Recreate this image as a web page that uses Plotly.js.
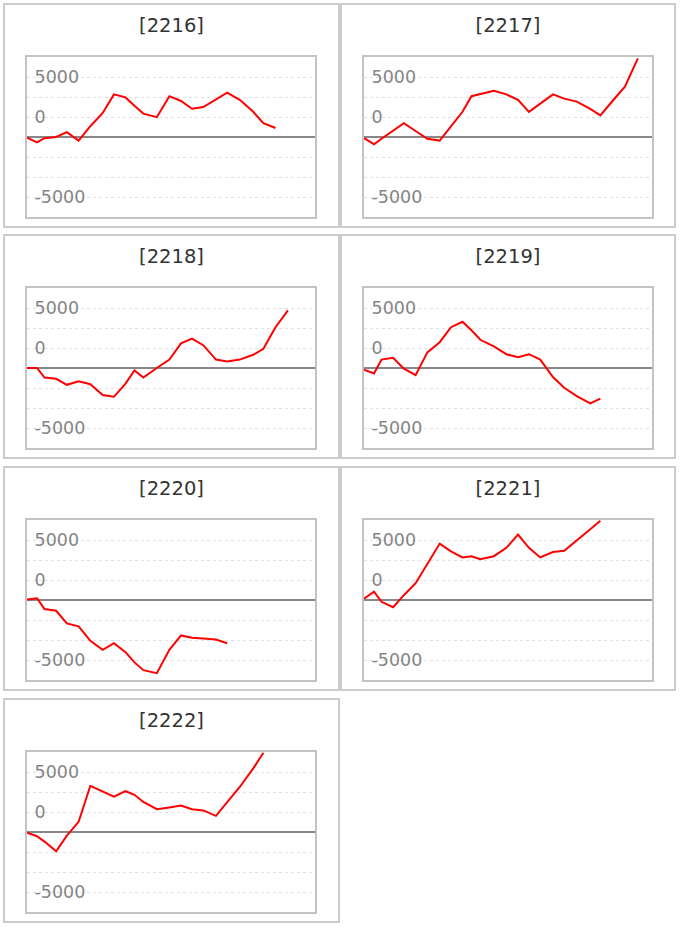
<!DOCTYPE html>
<html>
<head>
<meta charset="utf-8">
<script src="https://cdn.plot.ly/plotly-3.0.1.min.js"></script>
<style>
  body { margin: 0; background: #fff; }
  .box { position: absolute; height: 225px; box-sizing: border-box; border: 2px solid #ccc; background: #fff; }
  .chart { width: 100%; height: 221px; }
</style>
</head>
<body>
<script>
// shared day positions (x) for all series
var days = [0, 0.87, 1.52, 2.53, 3.46, 4.48, 5.5, 6.57, 7.55, 8.55, 9.33, 10.1, 11.27,
	12.36, 13.37, 14.32, 15.3, 16.4, 17.38, 18.47, 19.64, 20.52, 21.57, 22.65, 23.77];

var codes = ["2216", "2217", "2218", "2219", "2220", "2221", "2222"];

var pl2216 = [-50, -450, -100, 0, 400, -300, 900, 2000, 3550, 3300, 2600, 1950, 1650, 3400, 3000, 2350, 2500, 3100, 3700, 3100, 2100, 1150, 750];
var pl2217 = [-100, -600, -150, 550, 1150, 500, -150, -300, 850, 2100, 3400, 3600, 3850, 3550, 3100, 2100, 2800, 3550, 3200, 2950, 2350, 1800, 3000, 4200, 6550];
var pl2218 = [0, 0, -800, -900, -1400, -1100, -1350, -2250, -2400, -1300, -200, -800, 0, 700, 2050, 2450, 1900, 700, 550, 700, 1100, 1600, 3400, 4800];
var pl2219 = [-150, -450, 700, 850, -50, -600, 1300, 2150, 3400, 3850, 3150, 2350, 1800, 1150, 900, 1150, 700, -750, -1650, -2350, -2950, -2550];
var pl2220 = [50, 150, -750, -900, -1950, -2200, -3400, -4150, -3600, -4350, -5200, -5850, -6100, -4150, -2950, -3150, -3200, -3300, -3600];
var pl2221 = [100, 700, -150, -600, 400, 1400, 3000, 4700, 4050, 3550, 3650, 3400, 3650, 4350, 5450, 4350, 3550, 4000, 4100, 5000, 5900, 6600];
var pl2222 = [-50, -350, -800, -1600, -300, 850, 3850, 3400, 2950, 3400, 3100, 2500, 1900, 2050, 2200, 1900, 1800, 1350, 2500, 3750, 5300, 6600];

var series = [pl2216, pl2217, pl2218, pl2219, pl2220, pl2221, pl2222];

// dotted grid every 5000/3, labels as printed on the original
var yTickVals = [-5000, -10000 / 3, -5000 / 3, 0, 5000 / 3, 10000 / 3, 5000];
var yTickText = ["-5000", "", "", "", "0", "", "5000"];

var colLeft = [3, 340];
var colWidth = [337, 336];
var rowTop = [3, 234, 466, 698];

for (let i = 0; i < codes.length; i++) {
	var box = document.createElement("div");
	box.className = "box";
	box.style.left = colLeft[i % 2] + "px";
	box.style.top = rowTop[Math.floor(i / 2)] + "px";
	box.style.width = colWidth[i % 2] + "px";
	var div = document.createElement("div");
	div.className = "chart";
	div.id = "chart" + codes[i];
	box.appendChild(div);
	document.body.appendChild(box);

	var ys = series[i];
	var trace = {
		x: days.slice(0, ys.length),
		y: ys,
		type: "scatter",
		mode: "lines",
		line: {color: "#ff0000", width: 2},
		hoverinfo: "none"
	};
	var w = colWidth[i % 2] - 4;
	var layout = {
		width: w,
		height: 221,
		margin: {l: 22, r: w - 22 - 288, t: 52, b: 9, pad: 0},
		paper_bgcolor: "#fff",
		plot_bgcolor: "#fff",
		showlegend: false,
		title: {
			text: "[" + codes[i] + "]",
			font: {family: "DejaVu Sans", size: 19.5, color: "#333"},
			x: 0.5, xref: "container", xanchor: "center",
			y: 1 - 20.5 / 221, yref: "container", yanchor: "middle"
		},
		xaxis: {
			range: [0, 25],
			showticklabels: false,
			showgrid: false,
			zeroline: false,
			ticks: "",
			showline: true, mirror: true,
			linecolor: "#c3c3c3", linewidth: 2
		},
		yaxis: {
			range: [-20000 / 3, 20000 / 3],
			tickmode: "array",
			tickvals: yTickVals,
			ticktext: yTickText,
			ticklabelposition: "inside",
			ticklabelstandoff: 8,
			ticks: "",
			tickfont: {family: "DejaVu Sans", size: 17.5, color: "#858585"},
			showgrid: true,
			gridcolor: "#e0e0e0", gridwidth: 1, griddash: "dot",
			zeroline: true, zerolinecolor: "#888", zerolinewidth: 2,
			showline: true, mirror: true,
			linecolor: "#c3c3c3", linewidth: 2
		}
	};
	Plotly.newPlot(div.id, [trace], layout, {staticPlot: true, displayModeBar: false});
}
</script>
</body>
</html>
